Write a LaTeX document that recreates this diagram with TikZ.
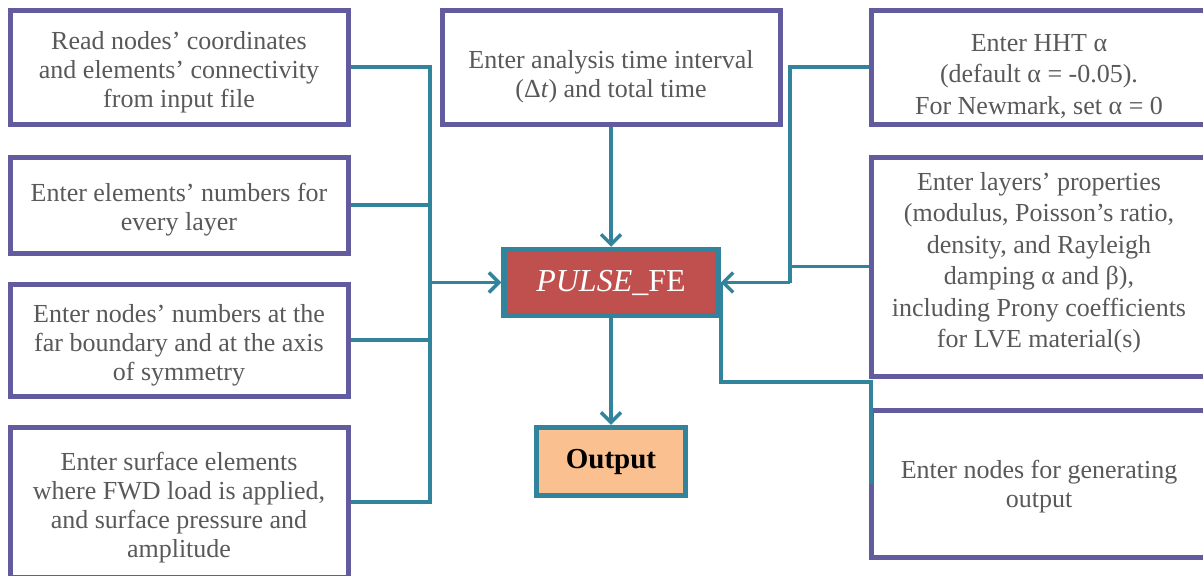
\documentclass[tikz,border=0pt]{standalone}
\usepackage{fontspec}
\setmainfont{Liberation Serif}
\usetikzlibrary{arrows.meta,calc}
\definecolor{boxc}{RGB}{98,91,158}
\definecolor{tealc}{RGB}{49,132,155}
\definecolor{redf}{RGB}{192,80,77}
\definecolor{orf}{RGB}{250,192,144}
\definecolor{txtc}{RGB}{89,89,89}
\begin{document}
\begin{tikzpicture}[x=1pt,y=-1pt,
  inbox/.style={draw=boxc,line width=5pt,fill=white,rectangle,inner sep=0pt},
  tx/.style={inner sep=0pt,align=center,text=txtc,font=\fontsize{26}{29}\selectfont},
  wide/.style={font=\fontsize{26}{31.5}\selectfont},
  conn/.style={draw=tealc,line width=3.5pt},
  arr/.style={conn,-{Straight Barb[length=10pt,width=20pt,line width=3.5pt]}},
]
\useasboundingbox (0,0) rectangle (1203,576);
\node[inbox,minimum width=338pt,minimum height=114pt] (L1) at (179,67) {};
\node[tx] (tL1) at ([yshift=-5pt]L1.center) {Read nodes’ coordinates\\and elements’ connectivity\\from input file};
\node[inbox,minimum width=338pt,minimum height=96pt] (L2) at (179,205) {};
\node[tx] (tL2) at ([yshift=-5pt]L2.center) {Enter elements’ numbers for\\every layer};
\node[inbox,minimum width=338pt,minimum height=112pt] (L3) at (179,340) {};
\node[tx] (tL3) at ([yshift=-5pt]L3.center) {Enter nodes’ numbers at the\\far boundary and at the axis\\of symmetry};
\node[inbox,minimum width=338pt,minimum height=150pt] (L4) at (179,502) {};
\node[tx] (tL4) at ([yshift=-6pt]L4.center) {Enter surface elements\\where FWD load is applied,\\and surface pressure and\\amplitude};
\node[inbox,minimum width=338pt,minimum height=114pt] (M) at (611,67) {};
\node[tx] (tM) at ([yshift=-10pt]M.center) {Enter analysis time interval\\(Δ\textit{t}) and total time};
\node[inbox,minimum width=336pt,minimum height=114pt] (R1) at (1039,67) {};
\node[tx,wide] (tR1) at ([yshift=-9pt]R1.center) {Enter HHT α\\(default α = -0.05).\\For Newmark, set α = 0};
\node[inbox,minimum width=336pt,minimum height=219pt] (R2) at (1039,266.5) {};
\node[tx,wide] (tR2) at ([yshift=4pt]R2.center) {Enter layers’ properties\\(modulus, Poisson’s ratio,\\density, and Rayleigh\\damping α and β),\\including Prony coefficients\\for LVE material(s)};
\node[inbox,minimum width=336pt,minimum height=147pt] (R3) at (1039,483.5) {};
\node[tx] (tR3) at ([yshift=-3.5pt]R3.center) {Enter nodes for generating\\output};
\node[draw=tealc,line width=5.5pt,fill=redf,text=white,inner sep=0pt,minimum width=214pt,minimum height=66pt,font=\fontsize{32}{36}\selectfont] (P) at (611,282.5) {\textit{PULSE}\_FE};
\node[draw=tealc,line width=5.5pt,fill=orf,text=black,inner sep=0pt,minimum width=149pt,minimum height=68pt,font=\fontsize{29}{33}\selectfont\bfseries] (O) at (611,461.5) {\raisebox{-3pt}{Output}};
\coordinate (jl) at (430,282.5);
\coordinate (jr) at (790,282.5);
\draw[conn] (L1.east) -| (jl);
\draw[conn] (L2.east) -| (jl);
\draw[conn] (L3.east) -| (jl);
\draw[conn] (L4.east) -| (jl);
\draw[arr] (jl) -- (P.west);
\draw[arr] (M.south) -- (P.north);
\draw[conn] (R1.west) -| (jr);
\draw[conn] (R2.west) -| (jr);
\draw[arr] (jr) -- (P.east);
\draw[conn] ($(R3.west)+(2.5,0)$) |- ($(P.east)+(0,99.5)$) -- (P.east);
\draw[arr] (P.south) -- (O.north);
\end{tikzpicture}
\end{document}
